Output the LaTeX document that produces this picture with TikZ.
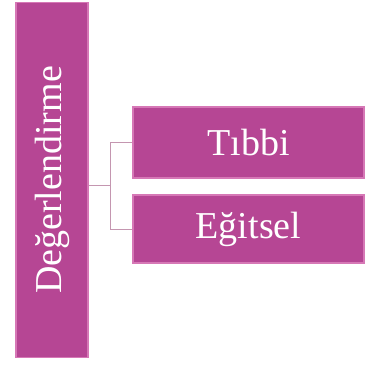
\documentclass[tikz,border=0pt]{standalone}
\usepackage{fontspec}
\setmainfont{Liberation Serif}
\definecolor{kutu}{RGB}{182,70,148}
\definecolor{kenar}{RGB}{214,120,182}
\definecolor{hat}{RGB}{196,150,176}
\tikzset{
    kutu/.style={fill=kutu,draw=kenar,line width=1.2pt,inner sep=0pt},
    yazi/.style={text=white,font=\fontsize{38}{42}\selectfont},
    hat/.style={draw=hat,line width=.8pt},
}
\begin{document}
\begin{tikzpicture}[x=1pt,y=-1pt]
                \useasboundingbox (0,0) rectangle (385,372);
                \path
                (52,180) node[kutu,minimum width=72pt,minimum height=355pt] (deg) {}
                (248.5,142.5) node[kutu,minimum width=231pt,minimum height=71pt,yazi] (tib) {Tıbbi}
                (248.5,229) node[kutu,minimum width=231pt,minimum height=68pt,yazi] (egi) {Eğitsel};
                \node[yazi,rotate=90] at (deg.center) {Değerlendirme};
                \coordinate (ayir) at (110,185.5);
                \draw[hat] (ayir -| deg.east) -- (ayir);
                \draw[hat] (ayir) |- (tib.west);
                \draw[hat] (ayir) |- (egi.west);
            \end{tikzpicture}
\end{document}
